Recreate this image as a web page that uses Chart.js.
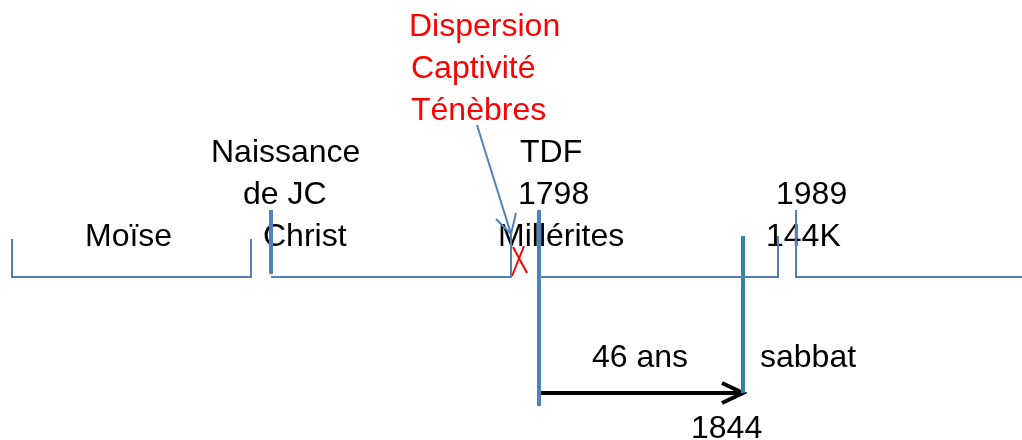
<!DOCTYPE html>
<html>
<head>
<meta charset="utf-8">
<script src="https://cdn.jsdelivr.net/npm/chart.js@4/dist/chart.umd.min.js"></script>
<style>
  html, body { margin: 0; padding: 0; background: #ffffff; }
  #c { display: block; }
</style>
</head>
<body>
<canvas id="c" width="1022" height="440"></canvas>
<script>
// ---- Timeline data (chart coordinates: x 0..1022, y 0..440 top-down) ----
const periodMoise   = [[12,239],[12,277],[251,277],[251,239]];
const periodChrist  = [[271,277],[511,277],[511,232]];
const periodTDF     = [[539,277],[778,277],[778,236]];
const period1989    = [[796,210],[796,277],[1022,277]];
const markChrist    = [[271,210],[271,274]];
const mark1798      = [[539,210],[539,406]];
const mark1844      = [[743,236],[743,393]];
const span46Shaft   = [[539,393],[743,393]];
const span46Head    = [[722,383],[743,393],[722,403]];
const pointerShaft  = [[477,125],[511,234]];
const pointerHead   = [[496,219],[511,234],[516,213]];
const crossStrokeA  = [[513,247],[527,273]];
const crossStrokeB  = [[524,246],[512,276]];

const labelTexts = ['Dispersion','Captivité','Ténèbres','Naissance','de JC','Christ','Moïse',
                    'TDF','1798','Millérites','1989','144K','46 ans','sabbat','1844'];
const labelX     = [409, 411, 411, 211, 243, 263, 85, 520, 518, 498, 776, 766, 592, 760, 691];
const labelY     = [36, 78, 120, 162, 204, 246, 246, 162, 204, 246, 204, 246, 367, 367, 438];
const labelRed   = [true, true, true, false, false, false, false, false, false, false, false, false, false, false, false];

const BLUE = '#4F81BD', TEAL = '#31859C', RED = '#FF0000', BLACK = '#000000';

function ds(points, color, width) {
  return {
    data: points.map(p => ({x: p[0], y: p[1]})),
    showLine: true,
    borderColor: color,
    backgroundColor: color,
    borderWidth: width,
    pointRadius: 0,
    pointHoverRadius: 0,
    tension: 0,
    fill: false,
    borderCapStyle: 'butt',
    borderJoinStyle: 'miter'
  };
}

const textPlugin = {
  id: 'timelineText',
  beforeDatasetsDraw(chart) {
    const ctx = chart.ctx;
    const xs = chart.scales.x, ys = chart.scales.y;
    ctx.save();
    ctx.font = '32px "Liberation Sans", Arial, sans-serif';
    ctx.textAlign = 'left';
    ctx.textBaseline = 'alphabetic';
    labelTexts.forEach((t, i) => {
      ctx.fillStyle = labelRed[i] ? RED : BLACK;
      ctx.fillText(t, xs.getPixelForValue(labelX[i]), ys.getPixelForValue(labelY[i]));
    });
    ctx.restore();
  }
};

new Chart(document.getElementById('c'), {
  type: 'scatter',
  data: {
    datasets: [
      ds(periodMoise, BLUE, 2),
      ds(periodChrist, BLUE, 2),
      ds(periodTDF, BLUE, 2),
      ds(period1989, BLUE, 2),
      ds(markChrist, BLUE, 4),
      ds(mark1798, BLUE, 4),
      ds(mark1844, TEAL, 4),
      ds(span46Shaft, BLACK, 4),
      ds(span46Head, BLACK, 4),
      ds(pointerShaft, BLUE, 2),
      ds(pointerHead, BLUE, 2),
      ds(crossStrokeA, RED, 2),
      ds(crossStrokeB, RED, 2)
    ]
  },
  options: {
    responsive: false,
    animation: false,
    devicePixelRatio: 1,
    layout: { padding: 0 },
    events: [],
    scales: {
      x: { type: 'linear', min: 0, max: 1022, display: false },
      y: { type: 'linear', min: 0, max: 440, reverse: true, display: false }
    },
    plugins: {
      legend: { display: false },
      tooltip: { enabled: false }
    }
  },
  plugins: [textPlugin]
});
</script>
</body>
</html>
